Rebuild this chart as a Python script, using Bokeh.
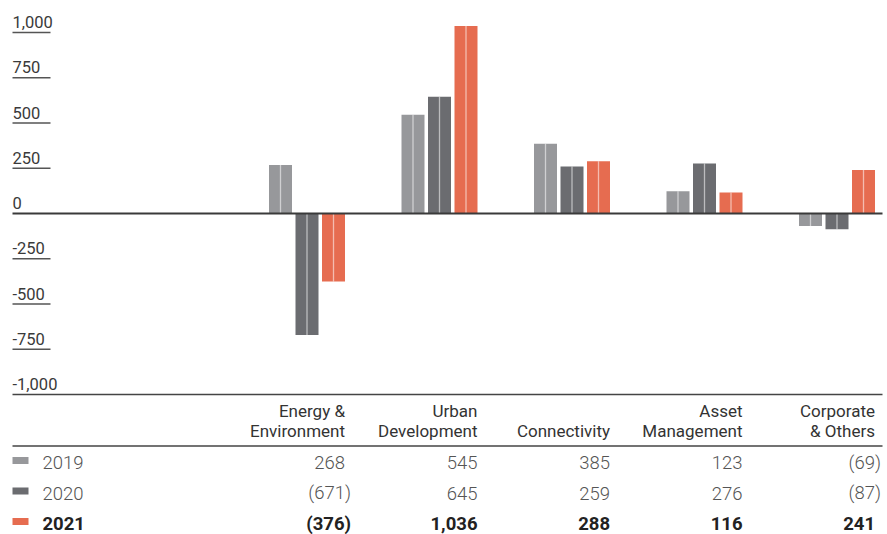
from bokeh.plotting import figure
from bokeh.models import ColumnDataSource, Range1d
from bokeh.transform import dodge
from bokeh.core.properties import value
from bokeh.embed import file_html
from bokeh.resources import INLINE

# ---- data ----
categories = ["Energy &\nEnvironment", "Urban\nDevelopment", "Connectivity",
              "Asset\nManagement", "Corporate\n& Others"]
years = ["2019", "2020", "2021"]
v2019 = [268, 545, 385, 123, -69]
v2020 = [-671, 645, 259, 276, -87]
v2021 = [-376, 1036, 288, 116, 241]
tick_values = [1000, 750, 500, 250, 0, -250, -500, -750, -1000]
tick_labels = ["1,000", "750", "500", "250", "0", "-250", "-500", "-750", "-1,000"]
colors = ["#97989b", "#6b6c70", "#e66c50"]

W, H = 887, 534
ZERO_PX = 213.0
PX_PER_UNIT = 181.0 / 1000.0
GROUP_PX = 132.5
FIRST_CENTER_PX = 306.5
BASE_FIX = -6  # renderer places alphabetic baseline ~6px low

x0 = -FIRST_CENTER_PX / GROUP_PX
x1 = (W - FIRST_CENTER_PX) / GROUP_PX
y0 = -(H - ZERO_PX) / PX_PER_UNIT
y1 = ZERO_PX / PX_PER_UNIT

p = figure(width=W, height=H, output_backend="svg", toolbar_location=None,
           x_range=Range1d(x0, x1), y_range=Range1d(y0, y1),
           x_axis_location=None, y_axis_location=None, min_border=0,
           outline_line_color=None, background_fill_color="white",
           border_fill_color="white")
p.grid.visible = False
p.extra_x_ranges = {"px": Range1d(0, W)}
p.extra_y_ranges = {"px": Range1d(H, 0)}

idx = list(range(len(categories)))
src = ColumnDataSource(dict(idx=idx, y2019=v2019, y2020=v2020, y2021=v2021))

step = 26.5 / GROUP_PX
bw = 23.0 / GROUP_PX
for k, (col, c) in enumerate(zip(["y2019", "y2020", "y2021"], colors)):
    off = (k - 1) * step
    p.vbar(x=dodge("idx", off), top=col, bottom=0, width=bw, source=src,
           fill_color=c, line_color=None)
    p.segment(x0=dodge("idx", off), x1=dodge("idx", off), y0=0, y1=col,
              source=src, line_color="white", line_alpha=0.55, line_width=1.3)

# y tick labels and short underlines
short_ticks = [t for t in tick_values if t not in (0, -1000)]
p.segment(x0=[12] * len(short_ticks), x1=[50] * len(short_ticks),
          y0=short_ticks, y1=short_ticks, x_range_name="px",
          line_color="#555555", line_width=1.3)
p.text(x=[12] * len(tick_values), y=tick_values, text=tick_labels,
       x_range_name="px", text_font=value("Roboto"), text_font_size="16.5px",
       text_color="#3a3a3a", text_baseline="alphabetic", text_align="left",
       y_offset=-4.5 + BASE_FIX)

# zero line and bottom line
p.segment(x0=[12], x1=[882], y0=[0], y1=[0], x_range_name="px",
          line_color="#3a3a3a", line_width=2)
p.segment(x0=[12], x1=[882], y0=[-1000], y1=[-1000], x_range_name="px",
          line_color="#444444", line_width=1.5)

# ---- table ----
right_edge = [i + step + bw / 2 for i in idx]
head_top = [c.split("\n")[0] if "\n" in c else "" for c in categories]
head_bot = [c.split("\n")[-1] for c in categories]
p.text(x=right_edge, y=[416.5 + BASE_FIX] * 5, text=head_top, y_range_name="px",
       text_font=value("Roboto"), text_font_size="17px", text_color="#333333",
       text_align="right", text_baseline="alphabetic")
p.text(x=right_edge, y=[436.5 + BASE_FIX] * 5, text=head_bot, y_range_name="px",
       text_font=value("Roboto"), text_font_size="17px", text_color="#333333",
       text_align="right", text_baseline="alphabetic")
p.segment(x0=[12], x1=[882], y0=[445.5], y1=[445.5], x_range_name="px",
          y_range_name="px", line_color="#444444", line_width=1.5)


def fmt(v):
    s = f"{abs(v):,}"
    return f"({s})" if v < 0 else s


row_y = [468, 498.5, 529]
for vals, yr, c, ry in zip([v2019, v2020, v2021], years, colors, row_y):
    bold = yr == "2021"
    font = value("Roboto") if bold else value("Roboto Light")
    style = "bold" if bold else "normal"
    tcol = "#222222" if bold else "#555555"
    p.rect(x=[20], y=[ry - 8], width=16, height=7, x_range_name="px",
           y_range_name="px", fill_color=c, line_color=None)
    p.text(x=[42], y=[ry + BASE_FIX], text=[yr], x_range_name="px", y_range_name="px",
           text_font=font, text_font_style=style, text_font_size="18.5px",
           text_color=tcol, text_baseline="alphabetic", text_align="left")
    p.text(x=right_edge, y=[ry + BASE_FIX] * 5, text=[fmt(v) for v in vals],
           x_offset=[6 if v < 0 else 0 for v in vals], y_range_name="px",
           text_font=font, text_font_style=style, text_font_size="18.5px",
           text_color=tcol, text_baseline="alphabetic", text_align="right")

open("out.html", "w").write(file_html(p, INLINE))
